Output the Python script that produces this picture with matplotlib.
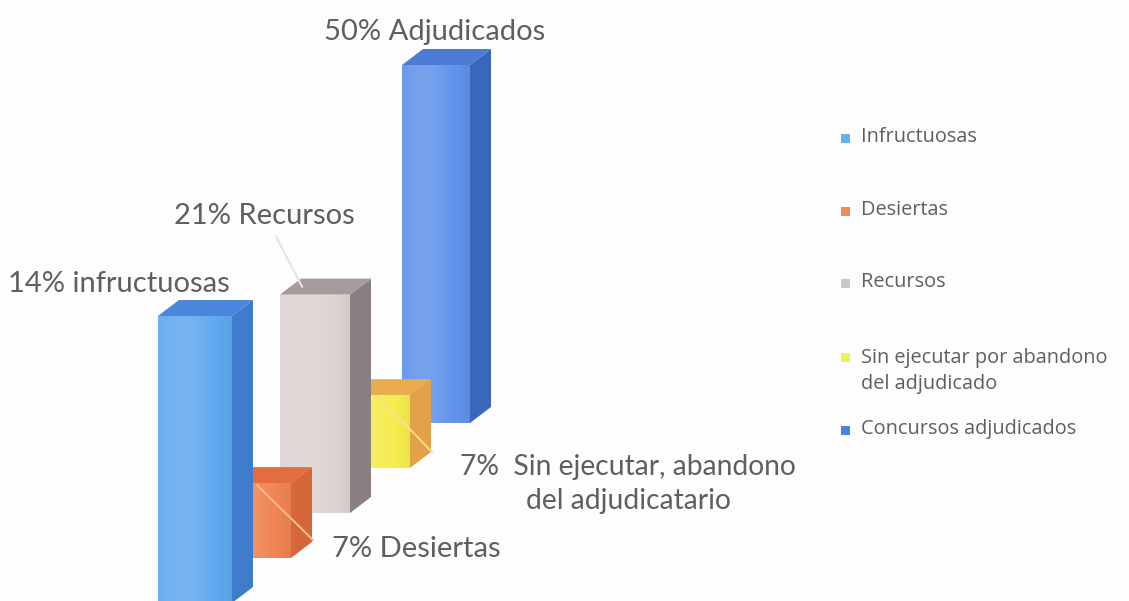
import numpy as np
import matplotlib
matplotlib.use("Agg")
import matplotlib.pyplot as plt
from matplotlib.patches import Polygon, Rectangle
from matplotlib.colors import to_rgb

# ---------------- data ----------------
categories = ["Infructuosas", "Desiertas", "Recursos",
              "Sin ejecutar por abandono\ndel adjudicado", "Concursos adjudicados"]
values = [14, 7, 21, 7, 50]
bar_labels = ["14% infructuosas", "7% Desiertas", "21% Recursos",
              "7%  Sin ejecutar, abandono\ndel adjudicatario", "50% Adjudicados"]

# ---------------- style / layout ----------------
front_colors = ["#5fa8ee", "#ef8451", "#ddd3d3", "#f5ec4e", "#5f92ea"]
side_colors = ["#3f7ccc", "#d5673b", "#8a7f80", "#e3a24a", "#3b66bd"]
top_colors = ["#4a86dc", "#e46d3e", "#a69a9a", "#e9ad4e", "#4c7bd6"]
legend_colors = ["#63b3f2", "#f28a55", "#c8c8c8", "#f0ef5a", "#4a83e6"]

px_per_pct = [20.5, 10.7, 10.4, 10.4, 7.16]   # perspective scale of each depth row
front_w = [74, 72, 70, 69, 68]
x0, x_step = 158, 61
y0, y_step = 603, -45
dx, dy = 21, -16

label_pos = [(119, 284), (416, 549), (264, 216), (628, 484), (435, 32)]
label_size = [21, 21, 21, 20.3, 21]
text_color = "#5f5f5f"
FONT = ["Lato", "DejaVu Sans"]
LEG_FONT = ["Open Sans", "DejaVu Sans"]

fig = plt.figure(figsize=(11.29, 6.01), dpi=100)
fig.patch.set_facecolor("#fdfdfd")
ax = fig.add_axes([0, 0, 1, 1])
ax.set_xlim(0, 1129)
ax.set_ylim(601, 0)
ax.axis("off")


def shade(c, f):
    r = np.array(to_rgb(c))
    if f >= 0:
        return r + (1 - r) * f
    return r * (1 + f)


geo = []
for i, v in enumerate(values):
    xb = x0 + x_step * i
    yb = y0 + y_step * i
    h = v * px_per_pct[i]
    geo.append((xb, yb, front_w[i], h))

# draw from back to front
for i in reversed(range(len(values))):
    xb, yb, w, h = geo[i]
    yt = yb - h
    ax.add_patch(Polygon([(xb + w, yb), (xb + w + dx, yb + dy),
                          (xb + w + dx, yt + dy), (xb + w, yt)],
                         closed=True, fc=side_colors[i], ec="none", zorder=2))
    ax.add_patch(Polygon([(xb, yt), (xb + dx, yt + dy), (xb + w + dx, yt + dy),
                          (xb + w, yt)],
                         closed=True, fc=top_colors[i], ec="none", zorder=2))
    rect = Rectangle((xb, yt), w, h, fc="none", ec="none", zorder=2)
    ax.add_patch(rect)
    t = np.linspace(0, 1, 64)
    f = 0.16 * np.exp(-((t - 0.35) / 0.4) ** 2) - 0.05 * t
    grad = np.array([shade(front_colors[i], fi) for fi in f])[None, :, :]
    grad = np.clip(np.repeat(grad, 2, axis=0), 0, 1)
    im = ax.imshow(grad, extent=(xb, xb + w, yb, yt), aspect="auto",
                   interpolation="bilinear", zorder=2)
    im.set_clip_path(rect)

ax.set_xlim(0, 1129)
ax.set_ylim(601, 0)

# faint leader lines
xb, yb, w, h = geo[2]
ax.plot([xb - 4, xb + 22], [yb - h - 58, yb - h - 8], color="#ece2e2", lw=1.5, zorder=3)
xb, yb, w, h = geo[1]
ax.plot([xb + 38, xb + w + 22], [yb - h + 2, yb - 18], color="#f6b898", lw=1.4, zorder=3)
xb, yb, w, h = geo[3]
ax.plot([xb + 38, xb + w + 22], [yb - h + 2, yb - 16], color="#f4e48a", lw=1.3, zorder=3)

# data labels
for i, lab in enumerate(bar_labels):
    x, y = label_pos[i]
    ax.text(x, y, lab, ha="center", va="center", fontsize=label_size[i], color=text_color,
            family=FONT, linespacing=1.4, zorder=4)

# legend (manual)
leg_y = [138, 211, 283, 357, 430]
for i, cat in enumerate(categories):
    ax.add_patch(Rectangle((841, leg_y[i] - 4.5), 9, 9, fc=legend_colors[i],
                           ec="none", zorder=4))
    if "\n" in cat:
        ax.text(861, leg_y[i] + 14, cat, ha="left", va="center", fontsize=14.3,
                color=text_color, family=LEG_FONT, linespacing=1.38, zorder=4)
    else:
        ax.text(861, leg_y[i] - 1, cat, ha="left", va="center", fontsize=14.3,
                color=text_color, family=LEG_FONT, zorder=4)

fig.savefig("out.png", dpi=100, facecolor=fig.get_facecolor())
